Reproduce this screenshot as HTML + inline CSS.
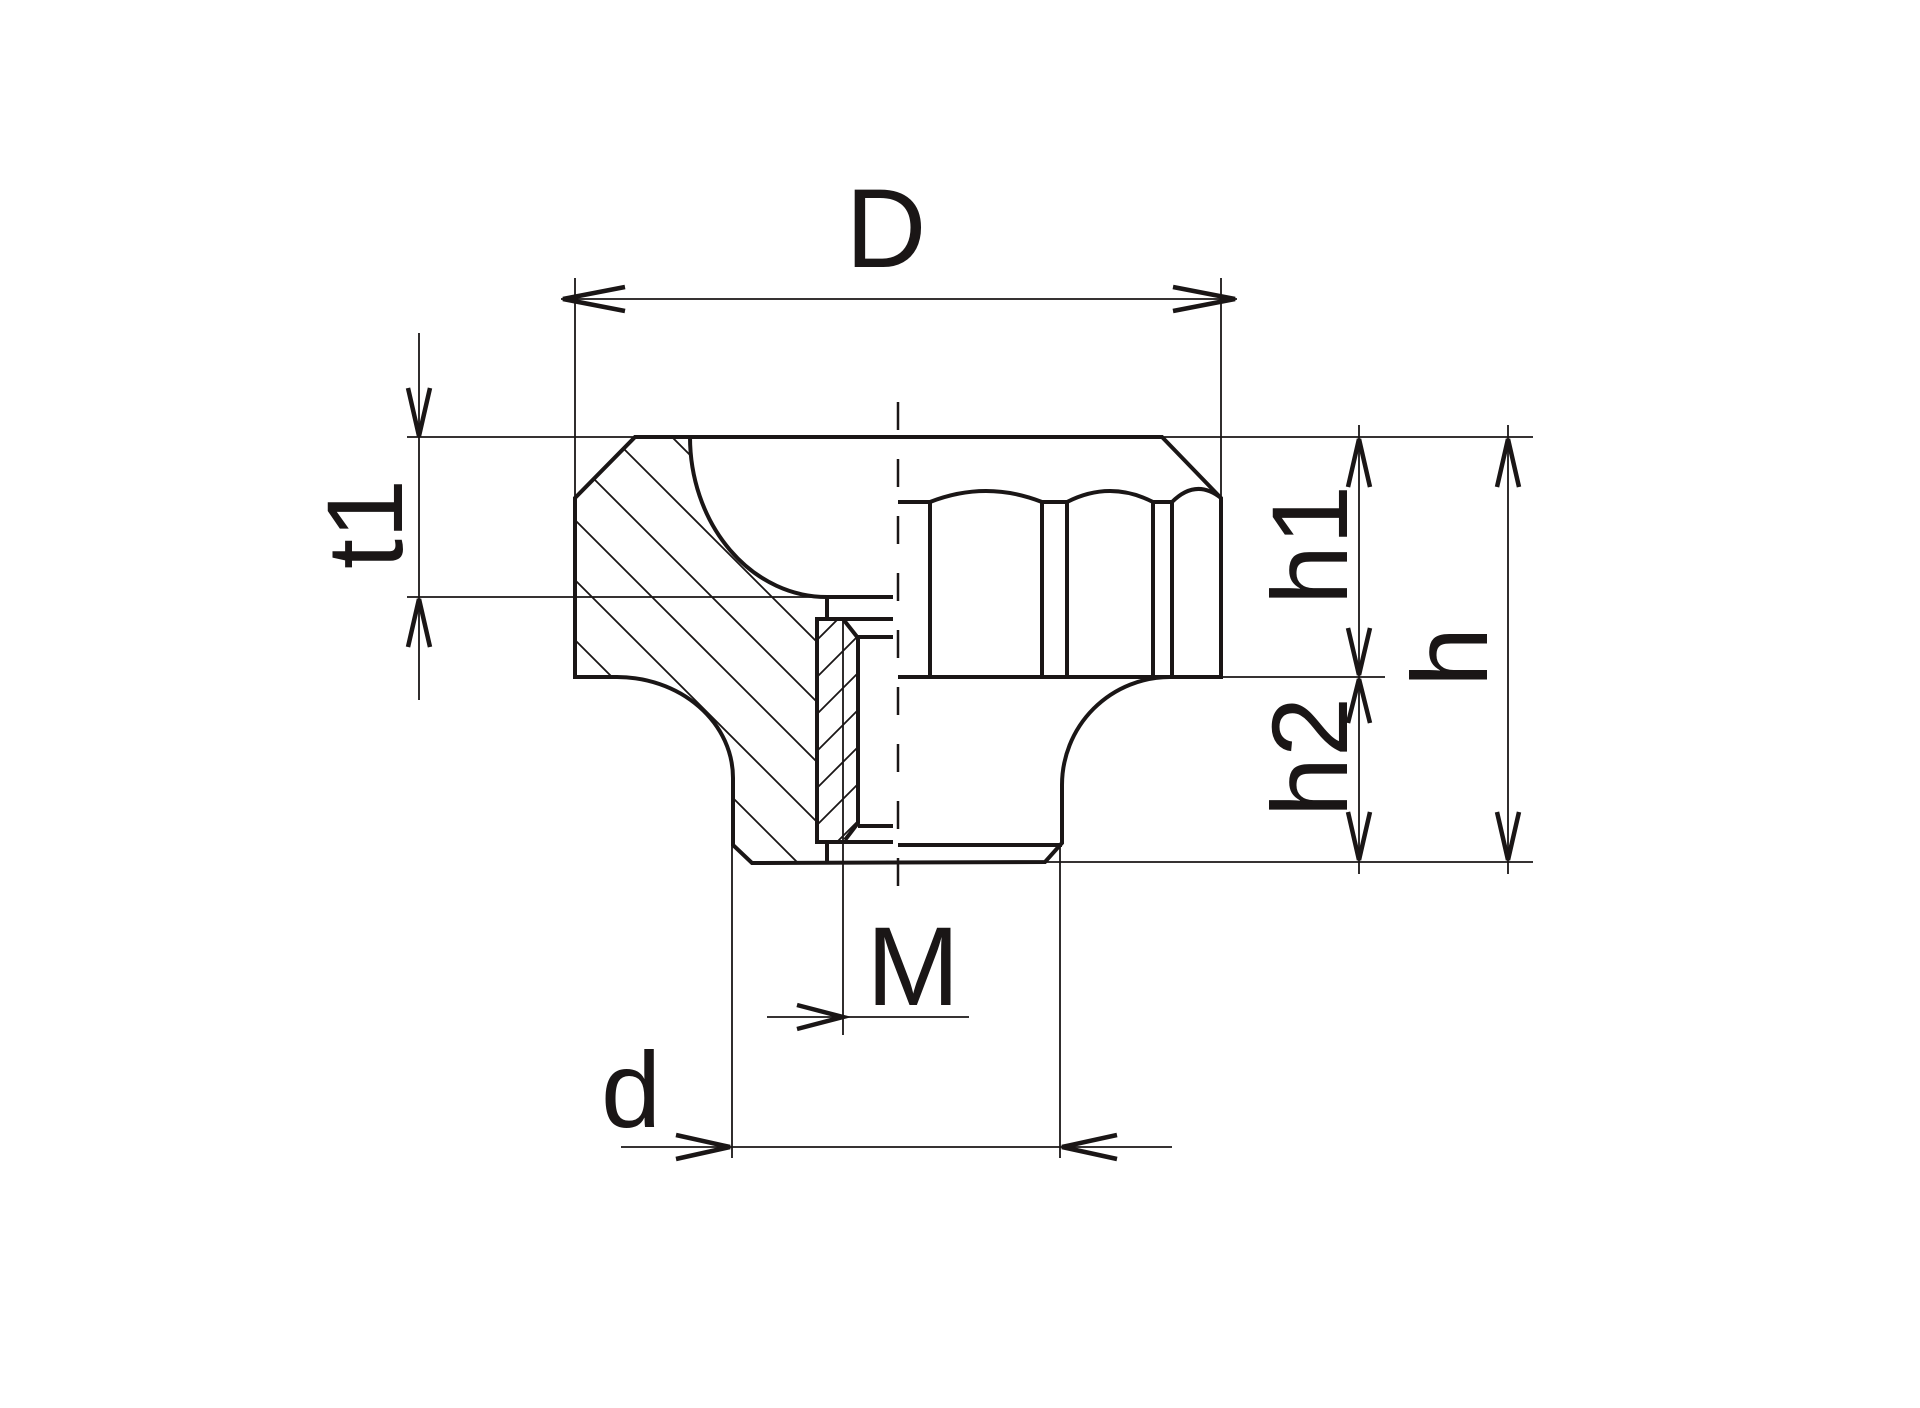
<!DOCTYPE html>
<html><head><meta charset="utf-8"><style>
html,body{margin:0;padding:0;background:#fff;width:1920px;height:1408px;overflow:hidden;}
svg{display:block;}
text{font-family:"Liberation Sans",Arial,sans-serif;fill:#1a1616;}
</style></head><body>
<svg width="1920" height="1408" viewBox="0 0 1920 1408" xmlns="http://www.w3.org/2000/svg">
<defs>
<clipPath id="sec">
<path d="M635,437 L690,437 A137,160 0 0 0 827,597 L827,619 L817,619 L817,863 L752,863 L733,845 L733,778 A116,101 0 0 0 617,677 L575,677 L575,498 Z"/>
</clipPath>
<clipPath id="ins">
<path d="M817,619 L843,619 L858,638 L858,823 L845,840 L817,840 Z"/>
</clipPath>
</defs>
<g stroke="#1a1616" fill="none">
<g clip-path="url(#sec)" stroke-width="1.8">
<line x1="560" y1="325" x2="900" y2="665"/>
<line x1="560" y1="385" x2="900" y2="725"/>
<line x1="560" y1="445" x2="900" y2="785"/>
<line x1="560" y1="505" x2="900" y2="845"/>
<line x1="560" y1="565" x2="860" y2="865"/>
<line x1="560" y1="625" x2="800" y2="865"/>
<line x1="560" y1="685" x2="740" y2="865"/>
</g>
<g clip-path="url(#ins)" stroke-width="1.8">
<line x1="810" y1="647" x2="870" y2="587"/>
<line x1="810" y1="684" x2="870" y2="624"/>
<line x1="810" y1="721" x2="870" y2="661"/>
<line x1="810" y1="758" x2="870" y2="698"/>
<line x1="810" y1="795" x2="870" y2="735"/>
<line x1="810" y1="832" x2="870" y2="772"/>
<line x1="810" y1="869" x2="870" y2="809"/>
</g>

<g stroke-width="4" stroke-linejoin="miter">
<path d="M635,437 L1162,437 L1221,498 L1221,677 L1170,677 A108,108 0 0 0 1062,785 L1062,843 L1045,862 L752,863 L733,845 L733,778 A116,101 0 0 0 617,677 L575,677 L575,498 Z"/>
<path d="M690,437 A137,160 0 0 0 827,597 L893,597"/>
<line x1="827" y1="597" x2="827" y2="619"/>
<path d="M893,619 L817,619 L817,842 L893,842"/>
<path d="M843,619 L858,638 L858,823 L845,840"/>
<line x1="858" y1="637" x2="893" y2="637"/>
<line x1="858" y1="826" x2="893" y2="826"/>
<line x1="827" y1="842" x2="827" y2="863"/>
<line x1="898" y1="845" x2="1062" y2="845"/>
<line x1="898" y1="677" x2="1221" y2="677"/>
<line x1="898" y1="502" x2="930" y2="502"/>
<line x1="930" y1="502" x2="930" y2="677"/>
<line x1="1042" y1="502" x2="1042" y2="677"/>
<line x1="1067" y1="502" x2="1067" y2="677"/>
<line x1="1153" y1="502" x2="1153" y2="677"/>
<line x1="1172" y1="502" x2="1172" y2="677"/>
<path d="M930,502 Q986,480 1042,502 L1067,502 Q1110,480 1153,502 L1172,502 Q1196,478 1221,498"/>
</g>

<line x1="898" y1="395" x2="898" y2="915" stroke-width="2.5" stroke-dasharray="28 29" stroke-dashoffset="-7"/>

<g stroke-width="1.8">
<line x1="575" y1="278" x2="575" y2="498"/>
<line x1="1221" y1="278" x2="1221" y2="498"/>
<line x1="561" y1="299" x2="1237" y2="299"/>
<line x1="407" y1="437" x2="1533" y2="437"/>
<line x1="407" y1="597" x2="827" y2="597"/>
<line x1="419" y1="333" x2="419" y2="700"/>
<line x1="1221" y1="677" x2="1385" y2="677"/>
<line x1="1045" y1="862" x2="1533" y2="862"/>
<line x1="1359" y1="425" x2="1359" y2="874"/>
<line x1="1508" y1="425" x2="1508" y2="874"/>
<line x1="843" y1="619" x2="843" y2="1035"/>
<line x1="767" y1="1017" x2="969" y2="1017"/>
<line x1="732" y1="845" x2="732" y2="1158"/>
<line x1="1060" y1="845" x2="1060" y2="1158"/>
<line x1="621" y1="1147" x2="1172" y2="1147"/>
</g>

<g stroke-width="4.5" stroke-linejoin="miter" stroke-linecap="butt">
<polyline points="625,287 563,299 625,311"/>
<polyline points="1173,287 1235,299 1173,311"/>
<polyline points="408,388 419,436 430,388"/>
<polyline points="408,647 419,599 430,647"/>
<polyline points="1348,487 1359,439 1370,487"/>
<polyline points="1348,628 1359,675 1370,628"/>
<polyline points="1348,723 1359,679 1370,723"/>
<polyline points="1348,812 1359,860 1370,812"/>
<polyline points="1497,487 1508,439 1519,487"/>
<polyline points="1497,812 1508,860 1519,812"/>
<polyline points="797,1005 843,1017 797,1029"/>
<polyline points="676,1135 730,1147 676,1159"/>
<polyline points="1117,1135 1062,1147 1117,1159"/>
</g>
</g>

<text x="886" y="267" font-size="112" text-anchor="middle">D</text>
<text x="913" y="1005" font-size="112" text-anchor="middle">M</text>
<text x="631" y="1127" font-size="108" text-anchor="middle">d</text>
<text transform="translate(402,524) rotate(-90)" font-size="108" text-anchor="middle">t1</text>
<text transform="translate(1347,545) rotate(-90)" font-size="108" text-anchor="middle">h1</text>
<text transform="translate(1347,757) rotate(-90)" font-size="108" text-anchor="middle">h2</text>
<text transform="translate(1487,657) rotate(-90)" font-size="108" text-anchor="middle">h</text>
</svg>
</body></html>
